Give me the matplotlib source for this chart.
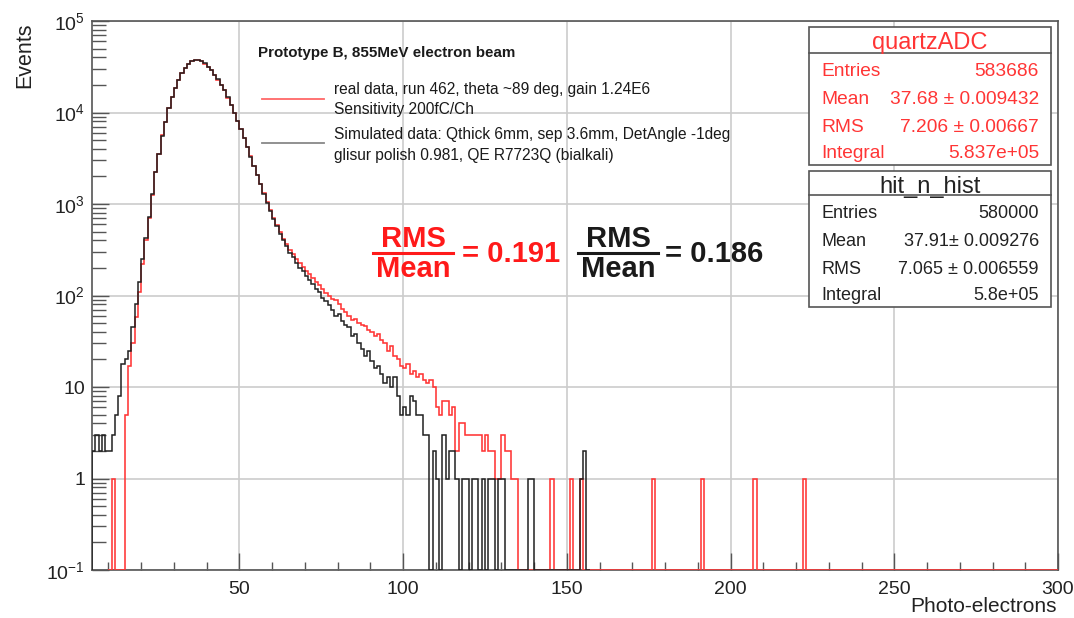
import numpy as np
import matplotlib
matplotlib.use('Agg')
import matplotlib.pyplot as plt
from matplotlib.lines import Line2D
from matplotlib.patches import Rectangle
from matplotlib.ticker import FixedLocator, MultipleLocator, LogLocator, NullFormatter, FixedFormatter

plt.rcParams['font.family'] = ['Liberation Sans', 'DejaVu Sans']
plt.rcParams['mathtext.fontset'] = 'custom'
plt.rcParams['mathtext.rm'] = 'Liberation Sans'
plt.rcParams['mathtext.it'] = 'Liberation Sans:italic'
plt.rcParams['mathtext.bf'] = 'Liberation Sans:bold'

# ---------------- data ----------------
sim_first_bin = 5
sim_counts = [
    2, 3, 2, 3, 2, 2, 3, 5, 8, 18,                                   # 5-14
    20, 25, 45, 80, 140, 250, 420, 730, 1280, 2250,                  # 15-24
    3550, 5600, 7900, 11100, 14700, 18500, 22800, 26800, 30800, 33900,  # 25-34
    36300, 37500, 37600, 36400, 34400, 31800, 29000, 25900, 23000, 20100,  # 35-44
    17400, 14600, 12000, 9950, 8100, 6580, 5230, 4150, 3290, 2610,   # 45-54
    2070, 1640, 1300, 1030, 830, 690, 570, 470, 400, 345,            # 55-64
    295, 262, 228, 200, 183, 163, 148, 133, 118, 108,                # 65-74
    95, 88, 79, 70, 60, 62, 52, 48, 45, 36,                          # 75-84
    38, 30, 26, 22, 25, 19, 16, 17, 14, 11,                          # 85-94
    13, 10, 13, 8, 5, 6, 5, 8, 7, 5,                                 # 95-104
    5, 3, 3, 0, 2, 1, 0, 3, 1, 2,                                    # 105-114
    2, 1, 0, 1, 1, 0, 1, 1, 0, 1,                                    # 115-124
    0, 1, 1, 0, 1, 1, 0, 0, 0, 0,                                    # 125-134
    0, 0, 0, 1, 1, 0, 0, 0, 0, 0,                                    # 135-144
    0, 0, 0, 0, 0, 0, 0, 0, 0, 1,                                    # 145-154
    2, 0,                                                            # 155-156
]

real_first_bin = 10
real_counts = [
    0, 1, 0, 0, 0, 5, 17, 30, 58, 110,                               # 10-19
    220, 400, 710, 1260, 2240, 3550, 5620, 7940, 11200, 14800,       # 20-29
    18600, 22900, 26900, 30900, 33900, 36300, 37500, 37500, 36300, 34300,  # 30-39
    31600, 28800, 25700, 22900, 20000, 17400, 14500, 12000, 10000, 8130,   # 40-49
    6610, 5250, 4170, 3310, 2630, 2090, 1660, 1320, 1050, 850,       # 50-59
    710, 590, 490, 417, 363, 316, 282, 251, 229, 204,                # 60-69
    186, 170, 155, 141, 129, 117, 107, 100, 91, 89,                  # 70-79
    80, 72, 66, 60, 54, 55, 50, 48, 46, 42,                          # 80-89
    40, 36, 38, 33, 30, 25, 28, 22, 20, 17,                          # 90-99
    16, 18, 14, 15, 13, 14, 12, 11, 12, 10,                          # 100-109
    6, 5, 7, 7, 5, 6, 2, 4, 4, 3,                                    # 110-119
    3, 3, 3, 3, 2, 3, 2, 2, 1, 1,                                    # 120-129
    3, 2, 2, 1, 1,                                                   # 130-134
]
real_tail_bins = [145, 151, 154, 176, 191, 207, 222]
real_tail_counts = [1, 1, 1, 1, 1, 1, 1]
real_last_edge = 300

x_range = (5, 300)
y_range = (0.1, 1e5)
x_major_ticks = [50, 100, 150, 200, 250, 300]
y_major_ticks = [0.1, 1, 10, 100, 1000, 10000, 100000]
y_tick_labels = [r'$10^{-1}$', '1', '10', r'$10^{2}$', r'$10^{3}$', r'$10^{4}$', r'$10^{5}$']

legend_header = 'Prototype B, 855MeV electron beam'
legend_real = ['real data, run 462, theta ~89 deg, gain 1.24E6', 'Sensitivity 200fC/Ch']
legend_sim = ['Simulated data: Qthick 6mm, sep 3.6mm, DetAngle -1deg',
              'glisur polish 0.981, QE R7723Q (bialkali)']

stat_real_title = 'quartzADC'
stat_real_rows = [('Entries', '583686'), ('Mean', '37.68 \u00b1 0.009432'),
                  ('RMS', '7.206 \u00b1 0.00667'), ('Integral', '5.837e+05')]
stat_sim_title = 'hit_n_hist'
stat_sim_rows = [('Entries', '580000'), ('Mean', '37.91\u00b1 0.009276'),
                 ('RMS', '7.065 \u00b1 0.006559'), ('Integral', '5.8e+05')]

ratio_real = '0.191'
ratio_sim = '0.186'

# ---------------- figure ----------------
W, H = 1074, 618
RED = '#ff3535'
fig = plt.figure(figsize=(W / 100, H / 100), dpi=100)
L, R, T, B = 92, 1058, 21, 570
ax = fig.add_axes([L / W, 1 - B / H, (R - L) / W, (B - T) / H])


def P(x, y):
    return (x / W, 1 - y / H)


# build histograms
sim_vals = np.array(sim_counts, dtype=float)
sim_edges = np.arange(sim_first_bin, sim_first_bin + len(sim_vals) + 1)

real_vals = np.zeros(real_last_edge - real_first_bin)
real_vals[:len(real_counts)] = real_counts
for b, c in zip(real_tail_bins, real_tail_counts):
    real_vals[b - real_first_bin] = c
real_edges = np.arange(real_first_bin, real_last_edge + 1)

ymin = y_range[0]
ax.stairs(np.where(real_vals > 0, real_vals, ymin), real_edges, baseline=ymin,
          color=RED, lw=1.15, zorder=3)
ax.stairs(np.where(sim_vals > 0, sim_vals, ymin), sim_edges, baseline=ymin,
          color='#202020', lw=1.1, zorder=4)

ax.set_yscale('log')
ax.set_xlim(*x_range)
ax.set_ylim(*y_range)

ax.xaxis.set_major_locator(FixedLocator(x_major_ticks))
ax.xaxis.set_minor_locator(MultipleLocator(10))
ax.yaxis.set_major_locator(FixedLocator(y_major_ticks))
ax.yaxis.set_major_formatter(FixedFormatter(y_tick_labels))
ax.yaxis.set_minor_locator(LogLocator(base=10, subs=np.arange(2, 10)))
ax.yaxis.set_minor_formatter(NullFormatter())

ax.set_axisbelow(True)
ax.grid(True, which='major', color='#cccccc', lw=1.2)
ax.tick_params(which='both', direction='in', top=False, right=False,
               color='#555555', labelsize=14, labelcolor='#222222')
ax.tick_params(axis='y', which='major', length=12, width=1, pad=5)
ax.tick_params(axis='y', which='minor', length=10, width=1)
ax.tick_params(axis='x', which='major', length=12, width=1, pad=8)
ax.tick_params(axis='x', which='minor', length=6, width=1)
for s in ax.spines.values():
    s.set_color('#555555')
    s.set_linewidth(1.2)

# axis titles
fig.text(*P(25, 22), 'Events', rotation=90, ha='center', va='top',
         fontsize=15.5, color='#222222')
fig.text(*P(1057, 607), 'Photo-electrons', ha='right', va='center',
         fontsize=15, color='#222222')

# legend (no frame)
fig.text(*P(258, 52), legend_header, ha='left', va='center_baseline', fontsize=10.9,
         fontweight='bold', color='#1a1a1a')
fig.add_artist(Line2D([262 / W, 324 / W], [1 - 99 / H] * 2, color=RED, lw=1.3, alpha=0.75))
fig.add_artist(Line2D([262 / W, 324 / W], [1 - 143 / H] * 2, color='#888888', lw=1.3))
for txt, yy in zip(legend_real + legend_sim, [88, 108, 133, 154]):
    fig.text(*P(334, yy), txt, ha='left', va='center_baseline', fontsize=11.2,
             color='#1a1a1a')


# stat boxes
def stat_box(x0, x1, y0, y1, ysep, title, title_y, rows, row_ys, color, fs_title, fs_row):
    fig.add_artist(Rectangle(P(x0, y1), (x1 - x0) / W, (y1 - y0) / H,
                             transform=fig.transFigure, facecolor='white',
                             edgecolor='#555555', lw=1.2, zorder=5))
    fig.add_artist(Line2D([x0 / W, x1 / W], [1 - ysep / H] * 2, color='#555555',
                          lw=1.2, zorder=6))
    fig.text(*P((x0 + x1) / 2, title_y), title, ha='center', va='center_baseline',
             fontsize=fs_title, color=color, zorder=7)
    for (k, v), yy in zip(rows, row_ys):
        fig.text(*P(x0 + 12, yy), k, ha='left', va='center_baseline', fontsize=fs_row,
                 color=color, zorder=7)
        fig.text(*P(x1 - 12, yy), v, ha='right', va='center_baseline', fontsize=fs_row,
                 color=color, zorder=7)


stat_box(809, 1051, 27, 165, 53, stat_real_title, 40, stat_real_rows,
         [69, 97, 125, 152], RED, 17, 13.8)
stat_box(809, 1051, 171, 307, 195, stat_sim_title, 184, stat_sim_rows,
         [212, 239, 267, 294], '#222222', 17, 13)


# RMS/Mean ratios
def ratio(xc, x0, x1, xeq, value, color):
    fig.text(*P(xc, 239), 'RMS', ha='center', va='center', fontsize=21,
             fontweight='bold', color=color)
    fig.add_artist(Line2D([x0 / W, x1 / W], [1 - 253 / H] * 2, color=color, lw=2.2))
    fig.text(*P(xc, 269), 'Mean', ha='center', va='center', fontsize=21,
             fontweight='bold', color=color)
    fig.text(*P(xeq, 254), '= ' + value, ha='left', va='center', fontsize=21,
             fontweight='bold', color=color)


ratio(413, 373, 453, 462, ratio_real, '#ff1a1a')
ratio(618, 578, 658, 665, ratio_sim, '#1a1a1a')

fig.savefig('out.png', dpi=100)
